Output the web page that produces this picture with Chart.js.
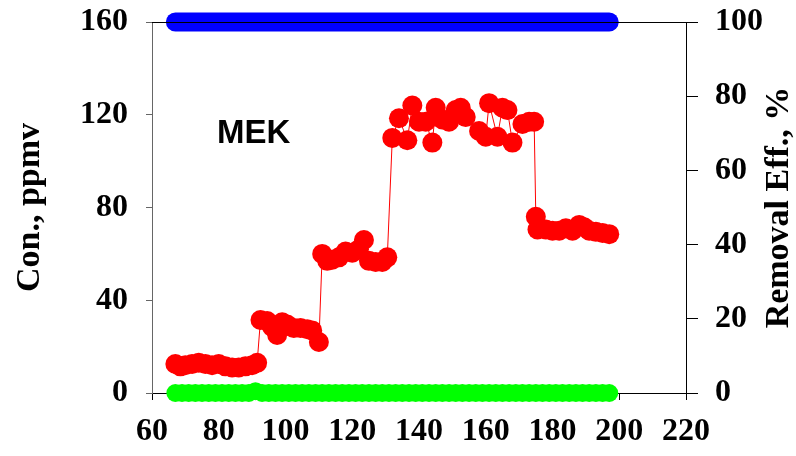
<!DOCTYPE html>
<html>
<head>
<meta charset="utf-8">
<script src="https://cdn.jsdelivr.net/npm/chart.js@4.4.1/dist/chart.umd.min.js"></script>
<style>
    html, body { margin: 0; padding: 0; background: #fff; }
    #chart { display: block; }
</style>
</head>
<body>
<canvas id="chart" width="796" height="456"></canvas>
<script>
// inlet MEK concentration (ppmv) vs time
const inletTime = [
    67, 68.5, 70, 72, 74, 76, 78, 80, 82, 84, 86, 88, 90, 91.5,
    92.5, 94.5, 96, 97.5, 99, 100.5, 102.5, 104.5, 106.5, 108, 110,
    111, 112.5, 114, 116, 118, 120, 122, 123.5, 125, 127, 129, 130.5,
    132, 134, 136.5, 138, 140, 142, 144, 145, 147, 149, 151, 152.5, 154,
    158, 160, 161, 163.5, 165, 166.5, 168, 171, 173, 174.5,
    175, 175.5, 178, 180, 182, 184, 186, 188, 189.5, 191, 193, 195, 197
];
const inletConc = [
    12.5, 11.5, 12, 12.5, 13, 12.5, 12, 12.5, 11.5, 11, 11, 11.5, 12, 13,
    31.5, 31, 28.5, 25, 30.5, 29.5, 28, 28, 27.5, 27, 22,
    60, 57, 57.5, 58.5, 61, 60.5, 62, 66, 57, 56.5, 56.5, 58.5,
    110, 118.5, 109, 124, 117, 117, 108, 123, 118, 117, 122, 123, 119,
    113, 110.5, 125, 110.5, 123, 122, 108, 116, 117, 117,
    76, 70.5, 70.5, 70, 70, 71, 70, 72.5, 71.5, 70, 69.5, 69, 68.5
];

// outlet concentration (ppmv) and removal efficiency (%)
const outletTime = [
    67, 69, 71, 73, 75, 77, 79, 81, 83, 85, 87, 89, 91, 93, 95, 97,
    99, 101, 103, 105, 107, 109, 111, 113, 115, 117, 119, 121, 123,
    125, 127, 129, 131, 133, 135, 137, 139, 141, 143, 145, 147, 149,
    151, 153, 155, 157, 159, 161, 163, 165, 167, 169, 171, 173, 175,
    177, 179, 181, 183, 185, 187, 189, 191, 193, 195, 197
];
const outletConc = [
    0, 0, 0, 0, 0, 0, 0, 0, 0, 0, 0, 0, 0.8, 0, 0, 0,
    0, 0, 0, 0, 0, 0, 0, 0, 0, 0, 0, 0, 0,
    0, 0, 0, 0, 0, 0, 0, 0, 0, 0, 0, 0, 0,
    0, 0, 0, 0, 0, 0, 0, 0, 0, 0, 0, 0, 0,
    0, 0, 0, 0, 0, 0, 0, 0, 0, 0, 0
];
const removalEff = [
    100, 100, 100, 100, 100, 100, 100, 100, 100, 100, 100, 100, 100, 100, 100, 100,
    100, 100, 100, 100, 100, 100, 100, 100, 100, 100, 100, 100, 100,
    100, 100, 100, 100, 100, 100, 100, 100, 100, 100, 100, 100, 100,
    100, 100, 100, 100, 100, 100, 100, 100, 100, 100, 100, 100, 100,
    100, 100, 100, 100, 100, 100, 100, 100, 100, 100, 100
];

const serif = "'Liberation Serif', 'Times New Roman', serif";

function toPoints(xs, ys) {
    return xs.map((x, i) => ({ x: x, y: ys[i] }));
}

// fixed axis box sizes so the plot area lands where the original has it
function fixWidth(w) {
    return function (scale) {
        scale.width = w;
        scale.paddingTop = 0;
        scale.paddingBottom = 0;
    };
}

/* extra text + top frame line */
const decorations = {
    id: "decorations",
    afterDraw(c) {
        const ctx = c.ctx;
        const area = c.chartArea;
        const x = c.scales.x;
        const y = c.scales.y;
        ctx.save();

        // top border of the frame
        ctx.strokeStyle = "#000";
        ctx.lineWidth = 1;
        ctx.beginPath();
        ctx.moveTo(area.left, area.top + 0.5);
        ctx.lineTo(area.right, area.top + 0.5);
        ctx.stroke();

        // compound label
        ctx.fillStyle = "#000";
        ctx.font = "bold 33px 'Liberation Sans', Arial, sans-serif";
        ctx.textAlign = "left";
        ctx.textBaseline = "alphabetic";
        ctx.fillText("MEK", x.getPixelForValue(79.5), y.getPixelForValue(108));

        // right axis title, reading bottom to top
        ctx.font = "bold 34px " + serif;
        ctx.textAlign = "center";
        ctx.textBaseline = "middle";
        ctx.translate(779, (area.top + area.bottom) / 2);
        ctx.rotate(-Math.PI / 2);
        ctx.fillText("Removal Eff., %", 0, 0);
        ctx.restore();
    }
};

const ctx = document.getElementById("chart").getContext("2d");
new Chart(ctx, {
    type: "scatter",
    data: {
        datasets: [
            {
                label: "Inlet",
                data: toPoints(inletTime, inletConc),
                showLine: true,
                borderColor: "#ff0000",
                borderWidth: 1,
                pointRadius: 10,
                pointBackgroundColor: "#ff0000",
                pointBorderColor: "#ff0000",
                pointBorderWidth: 0,
                yAxisID: "y",
                clip: false
            },
            {
                label: "Outlet",
                data: toPoints(outletTime, outletConc),
                showLine: false,
                pointRadius: 9,
                pointBackgroundColor: "#00ff00",
                pointBorderColor: "#00ff00",
                pointBorderWidth: 0,
                yAxisID: "y",
                clip: false
            },
            {
                label: "Removal Eff.",
                data: toPoints(outletTime, removalEff),
                showLine: true,
                borderColor: "#0000ff",
                borderWidth: 19,
                borderCapStyle: "round",
                pointRadius: 0,
                yAxisID: "y1",
                clip: false
            }
        ]
    },
    options: {
        responsive: false,
        animation: false,
        events: [],
        layout: { padding: { top: 22, left: 0, right: 0, bottom: 0 } },
        plugins: {
            legend: { display: false },
            tooltip: { enabled: false }
        },
        scales: {
            x: {
                type: "linear",
                min: 60,
                max: 220,
                ticks: {
                    stepSize: 20,
                    color: "#000",
                    padding: 13,
                    font: { family: serif, size: 32, weight: "bold" }
                },
                grid: { drawOnChartArea: false, tickLength: 7, color: "#000" },
                border: { color: "#000", width: 1 },
                afterFit(scale) {
                    scale.height = 63;
                    scale.paddingLeft = 0;
                    scale.paddingRight = 0;
                }
            },
            y: {
                position: "left",
                min: 0,
                max: 160,
                ticks: {
                    stepSize: 40,
                    color: "#000",
                    padding: 18,
                    font: { family: serif, size: 32, weight: "bold" }
                },
                grid: { drawOnChartArea: false, tickLength: 6, color: "#666" },
                border: { color: "#666", width: 1 },
                title: {
                    display: true,
                    text: "Con., ppmv",
                    color: "#000",
                    padding: { top: 10, bottom: 0 },
                    font: { family: serif, size: 34, weight: "bold" }
                },
                afterFit: fixWidth(152)
            },
            y1: {
                position: "right",
                min: 0,
                max: 100,
                ticks: {
                    stepSize: 20,
                    color: "#000",
                    padding: 17,
                    font: { family: serif, size: 32, weight: "bold" }
                },
                grid: { drawOnChartArea: false, tickLength: 12, color: "#000" },
                border: { color: "#000", width: 1 },
                afterFit: fixWidth(110)
            }
        }
    },
    plugins: [decorations]
});
</script>
</body>
</html>
